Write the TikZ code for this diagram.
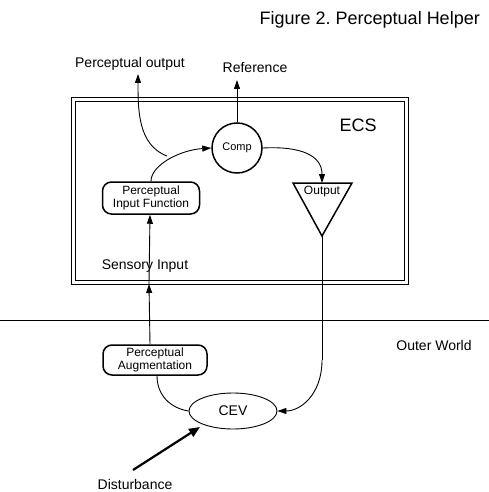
\documentclass[tikz,border=0pt]{standalone}
\usepackage{fontspec}
\setmainfont{Liberation Sans}
\usetikzlibrary{arrows.meta,shapes.geometric}
\tikzset{
  wire/.style={line width=0.9pt},
  arr/.style={wire,-{Triangle[length=9pt,width=6pt]}},
  fatarr/.style={line width=2.2pt,-{Triangle[length=11pt,width=9pt]}},
  rbox/.style={draw,line width=1.5pt,rounded corners=9pt,align=center,inner sep=0pt,font=\fontsize{12}{12.5}\selectfont},
  lbl/.style={inner sep=0pt,font=\fontsize{14}{16}\selectfont},
}
\begin{document}
\begin{tikzpicture}[x=1pt,y=-1pt]
\useasboundingbox (0,0) rectangle (489,492);
% title
\node[lbl,font=\fontsize{18}{20}\selectfont,anchor=east] (title) at (480,20) {Figure 2.\ Perceptual Helper};
% ECS double box
\draw[wire] (71,97) rectangle (408,284);
\draw[wire] (75,101) rectangle (404,280);
\node[lbl,font=\fontsize{18}{20}\selectfont] (ecs) at (358,125) {ECS};
% outer world separator
\coordinate (sepL) at (0,320);
\coordinate (sepR) at (489,320);
\draw[wire] (sepL) -- (sepR);
\node[lbl] (outer) at (434,345) {Outer World};
% comparator
\node[draw,circle,line width=1.5pt,minimum size=50pt,inner sep=0pt,font=\fontsize{11}{12}\selectfont] (comp) at (237,148) {Comp};
% PIF
\node[rbox,minimum width=97pt,minimum height=32pt] (pif) at (151,198) {Perceptual\\Input Function};
% output triangle
\coordinate (otl) at (293,183);
\coordinate (otr) at (352,183);
\coordinate (oap) at (322,236);
\coordinate (otop) at (322,183);
\draw[line width=1.5pt,line join=miter] (otl) -- (otr) -- (oap) -- cycle;
\node[inner sep=0pt,font=\fontsize{12}{13}\selectfont] (outlbl) at (322,192) {Output};
% PA
\node[rbox,minimum width=104pt,minimum height=30pt] (pa) at (155,360) {Perceptual\\Augmentation};
% CEV
\node[draw,ellipse,wire,minimum width=88pt,minimum height=36pt,inner sep=0pt,font=\fontsize{14}{16}\selectfont] (cev) at (233,411) {CEV};
% labels
\node[lbl] (poutl) at (130,64) {Perceptual output};
\node[lbl] (refl) at (255,68) {Reference};
\node[lbl] (sens) at (145,266) {Sensory Input};
\node[lbl] (dist) at (135,484) {Disturbance};
% coordinates
\coordinate (potip) at (138,74);
\coordinate (reftip) at (237,80);
\coordinate (pojoin) at (167,156);
\coordinate (boxin) at (149,284);
\coordinate (disttail) at (133,470);
\coordinate (distip) at (200,427);
\coordinate (outbend) at (322,360);
% connectors
\draw[arr] (pif.north) .. controls (151,165) and (180,150) .. (comp.west);
\draw[arr] (pojoin) .. controls (138,145) and (138,110) .. (potip);
\draw[arr] (comp.north) -- (reftip);
\draw[arr] (comp.east) .. controls (300,146) and (322,155) .. (otop);
\draw[wire] (oap) -- (outbend);
\draw[arr] (outbend) .. controls (322,395) and (300,411) .. (cev.east);
\draw[wire] (cev.west) .. controls (170,408) and (157,395) .. (pa.south -| 157,0);
\draw[arr] (pa.north -| 150,0) -- (boxin);
\draw[arr] (boxin) -- (pif.south -| 150,0);
\draw[fatarr] (disttail) -- (distip);
\end{tikzpicture}
\end{document}
